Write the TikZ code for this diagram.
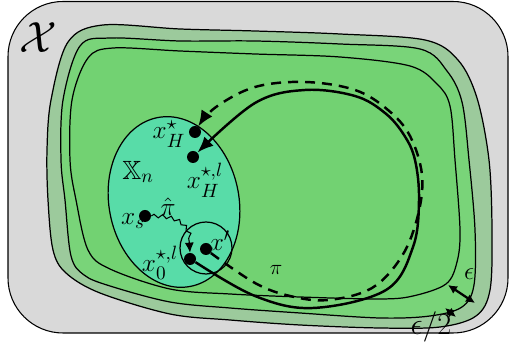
\documentclass[tikz,border=0pt]{standalone}
\usepackage{amsmath,amssymb}
\usepackage{xcolor}
\usepackage{tikz}
\usetikzlibrary{arrows.meta, decorations.pathmorphing}

\definecolor{spacegray}{HTML}{D9D9D9}
\definecolor{bandouter}{HTML}{9CCA9C}
\definecolor{bandinner}{HTML}{79D479}
\definecolor{safegreen}{HTML}{72D272}
\definecolor{datateal}{HTML}{58DCA8}

\begin{document}
\begin{tikzpicture}[
    x=0.02cm, y=-0.02cm,
    region/.style={draw=black, line width=0.7pt},
    dot/.style={circle, fill=black, inner sep=0pt, minimum size=0.24cm},
    lbl/.style={font=\fontsize{15}{18}\selectfont, inner sep=1pt},
    traj/.style={line width=1.4pt, -{Latex[length=3.2mm, width=2.6mm]}},
    wavy/.style={line width=0.6pt, decorate, decoration={snake, amplitude=0.35mm, segment length=1.7mm, post length=2.2mm}, -{Latex[length=2mm, width=1.8mm]}},
    gap/.style={line width=1.3pt, {Latex[length=1.8mm, width=1.8mm]}-{Latex[length=1.8mm, width=1.8mm]}}
]
\useasboundingbox (0,0) rectangle (510,350);

\filldraw[fill=spacegray, draw=black, line width=0.6pt, rounded corners=1.1cm] (8,1.5) rectangle (508,333);

\filldraw[region, fill=bandouter] plot[smooth cycle, tension=0.55] coordinates {
    (103,25) (180,29) (255,31) (340,34) (425,40) (458,60) (477,98) (489,160) (492,230) (490,290) (476,316)
    (440,327) (380,328) (300,325) (230,320) (170,314) (100,293) (66,273) (53,250) (48,200) (47,150) (51,100) (68,42)};
\filldraw[region, fill=bandinner] plot[smooth cycle, tension=0.55] coordinates {
    (110,38) (180,41) (255,41) (340,44) (420,49) (447,71) (462,102) (469,160) (475,230) (474,285) (462,307)
    (430,316) (380,318) (300,313) (230,308) (170,302) (110,286) (84,275) (71,256) (65,200) (61,160) (63,100) (80,46)};
\filldraw[region, fill=safegreen] plot[smooth cycle, tension=0.55] coordinates {
    (113,48) (180,51) (255,54) (340,57) (410,66) (437,84) (450,106) (455,160) (460,230) (457,262) (446,284)
    (413,296) (380,299) (300,297) (230,294) (170,289) (110,269) (88,250) (76,200) (70,160) (72,100) (88,58)};

\filldraw[region, fill=datateal, rotate around={11:(174,202)}] (174,202) ellipse [x radius=1.3cm, y radius=1.72cm];
\draw[region] (206,248) circle [radius=0.52cm];

\node[dot] (xHs) at (195,132) {};
\node[dot] (xHl) at (193,157) {};
\node[dot] (xs) at (145,216) {};
\node[dot] (xp) at (206,249) {};
\node[dot] (x0) at (190,259) {};

\draw[traj, dashed, dash pattern=on 2mm off 1.4mm] plot[smooth, tension=0.6] coordinates {
    (xp.-40) (255,283) (290,296) (328,300) (372,288) (402,256) (418,215) (422,175) (410,136) (388,110)
    (355,90) (305,82) (255,87) (216,107) (xHs.60)};
\draw[traj] plot[smooth, tension=0.6] coordinates {
    (x0.-30) (255,296) (313,308) (386,290) (413,247) (419,200) (415,160) (404,135) (385,113) (355,96) (305,90)
    (255,103) (xHl.45)};
\draw[wavy] (xs) to[out=0, in=90, looseness=1.3] (x0);

\coordinate (epsin) at (448,285);
\coordinate (epsout) at (475,303);
\coordinate (halfin) at (445,308);
\coordinate (halfout) at (456,317);
\draw[gap] (epsin) -- (epsout);
\draw[gap] (halfin) -- (halfout);

\node[font=\fontsize{27}{30}\selectfont] (space) at (38,38) {$\mathcal{X}$};
\node[lbl] (Xnlbl) at (138,172) {$\mathbb{X}_n$};
\node[lbl] (xHslbl) at (169,134) {$x_H^\star$};
\node[lbl] (xHllbl) at (205,180) {$x_H^{\star,l}$};
\node[lbl] (xslbl) at (133,221) {$x_s$};
\node[lbl] (pihat) at (168,207) {$\hat{\pi}$};
\node[lbl] (xplbl) at (220,241) {$x'$};
\node[lbl] (x0lbl) at (160,263) {$x_0^{\star,l}$};
\node[font=\fontsize{13}{15}\selectfont] (pilbl) at (276,270) {$\pi$};
\node[lbl] (epslbl) at (469,274) {$\epsilon$};
\node[font=\fontsize{19}{22}\selectfont] (halflbl) at (431,327) {$\epsilon/2$};
\end{tikzpicture}
\end{document}
